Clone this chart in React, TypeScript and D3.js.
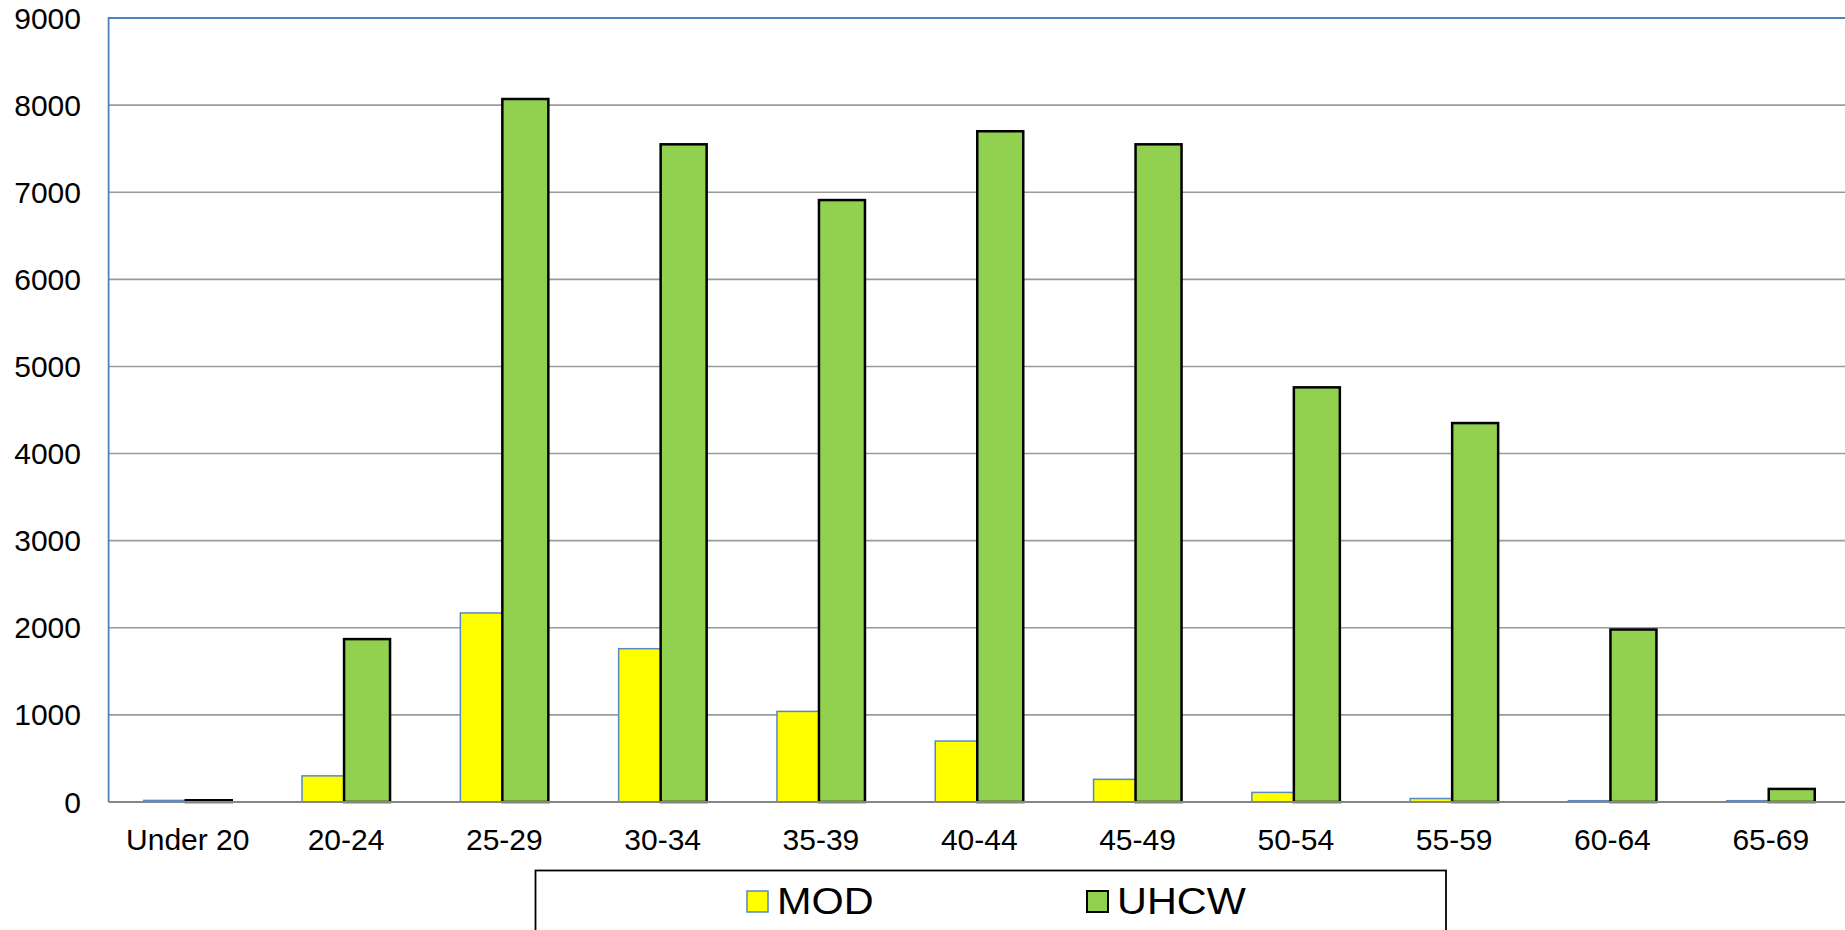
import React from "react";
import * as d3 from "d3";

const categories = ["Under 20", "20-24", "25-29", "30-34", "35-39", "40-44", "45-49", "50-54", "55-59", "60-64", "65-69"];
const modValues = [18, 300, 2170, 1760, 1040, 700, 260, 110, 40, 15, 15];
const uhcwValues = [20, 1870, 8070, 7550, 6910, 7700, 7550, 4760, 4350, 1980, 150];
const yTicks = [0, 1000, 2000, 3000, 4000, 5000, 6000, 7000, 8000, 9000];
const seriesNames = ["MOD", "UHCW"];

const W = 1845;
const H = 930;
const plotLeft = 108.6;
const plotTop = 18;
const plotBottom = 802;
const band = 158.3;

const MOD_FILL = "#ffff00";
const MOD_STROKE = "#5a87c5";
const UHCW_FILL = "#92d050";
const UHCW_STROKE = "#000000";
const FONT = "'Liberation Sans', Arial, sans-serif";

export default function App() {
  const x = d3
    .scaleBand<string>()
    .domain(categories)
    .range([plotLeft, plotLeft + band * categories.length])
    .padding(0);
  const y = d3.scaleLinear().domain([0, 9000]).range([plotBottom, plotTop]);

  return (
    <svg
      width={W}
      height={H}
      style={{ position: "absolute", left: 0, top: 0, background: "#fff" }}
      fontFamily={FONT}
    >
      <rect x={0} y={0} width={W} height={H} fill="#fff" />
      {/* gridlines */}
      {yTicks.slice(1, -1).map((t) => (
        <line key={t} x1={plotLeft} x2={W} y1={y(t)} y2={y(t)} stroke="#9a9a9a" strokeWidth={1.6} />
      ))}
      {/* top border */}
      <line x1={plotLeft} x2={W} y1={y(9000)} y2={y(9000)} stroke="#4f81bd" strokeWidth={1.8} />
      {/* bars */}
      {categories.map((c, i) => {
        const cx = (x(c) as number) + x.bandwidth() / 2;
        const y0 = y(0);
        const ym = y(modValues[i]);
        const yu = y(uhcwValues[i]);
        return (
          <g key={c}>
            <rect x={cx - 44} y={ym} width={42} height={y0 - ym} fill={MOD_FILL} stroke={MOD_STROKE} strokeWidth={1.5} />
            <rect x={cx - 2} y={yu} width={46} height={y0 - yu} fill={UHCW_FILL} stroke={UHCW_STROKE} strokeWidth={2.5} />
          </g>
        );
      })}
      {/* axes */}
      <line x1={plotLeft} x2={W} y1={y(0)} y2={y(0)} stroke="#868686" strokeWidth={2} />
      <line x1={plotLeft} x2={plotLeft} y1={y(9000) - 0.9} y2={y(0)} stroke="#4f81bd" strokeWidth={1.8} />
      {/* y tick labels */}
      {yTicks.map((t) => (
        <text key={t} x={81} y={y(t)} textAnchor="end" dominantBaseline="central" fontSize={30} fill="#000">
          {t}
        </text>
      ))}
      {/* x labels */}
      {categories.map((c) => (
        <text
          key={c}
          x={(x(c) as number) + x.bandwidth() / 2}
          y={850}
          textAnchor="middle"
          fontSize={30}
          fill="#000"
        >
          {c}
        </text>
      ))}
      {/* legend */}
      <rect x={535.5} y={870.5} width={910.5} height={80} fill="#fff" stroke="#000" strokeWidth={1.8} />
      {seriesNames.map((s, i) => {
        const lx = i === 0 ? 747 : 1087;
        return (
          <g key={s}>
            <rect
              x={lx}
              y={891}
              width={21}
              height={21}
              fill={i === 0 ? MOD_FILL : UHCW_FILL}
              stroke={i === 0 ? MOD_STROKE : UHCW_STROKE}
              strokeWidth={i === 0 ? 1.5 : 2}
            />
            <text x={lx + 30} y={914} fontSize={37} fill="#000" transform={`translate(${lx + 30},0) scale(1.12,1) translate(${-(lx + 30)},0)`}>
              {s}
            </text>
          </g>
        );
      })}
    </svg>
  );
}
